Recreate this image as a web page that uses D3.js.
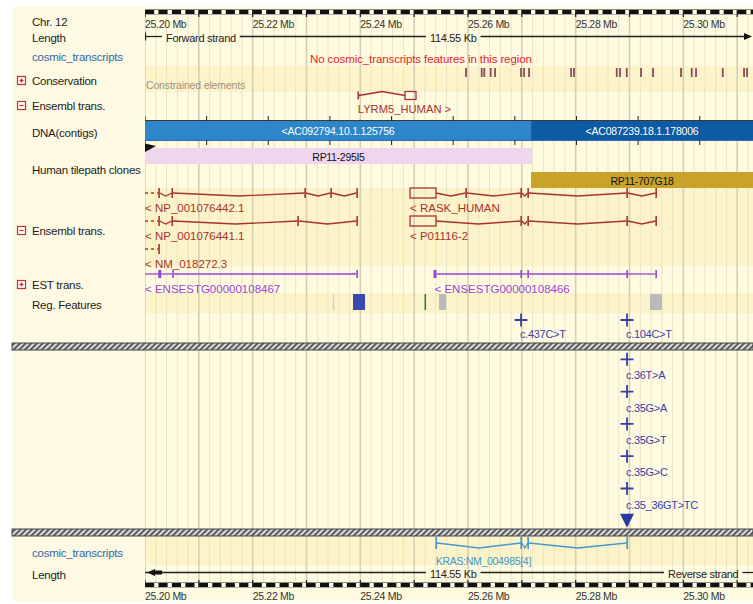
<!DOCTYPE html>
<html>
<head>
<meta charset="utf-8">
<script src="https://cdn.jsdelivr.net/npm/d3@7"></script>
<style>
  html, body { margin: 0; padding: 0; background: #ffffff; }
  svg { display: block; font-family: "Liberation Sans", Arial, sans-serif; }
</style>
</head>
<body>
<svg id="view" width="753" height="604"></svg>
<script>
// ---- Region on chromosome 12 (Mb) ----
const viewStart = 25.2;
const viewEnd = 25.3145;
const regionLength = "114.55 Kb";
const rulerTicks = [25.20, 25.22, 25.24, 25.26, 25.28, 25.30];
const rulerTickLabels = ["25.20 Mb", "25.22 Mb", "25.24 Mb", "25.26 Mb", "25.28 Mb", "25.30 Mb"];

// ---- Track names in the left column ----
const upperTrackNames = ["Chr. 12", "Length", "cosmic_transcripts", "Conservation", "Ensembl trans.",
  "DNA(contigs)", "Human tilepath clones", "Ensembl trans.", "EST trans.", "Reg. Features"];
const upperTrackToggles = [null, null, null, "+", "-", null, null, "-", "+", null];
const lowerTrackNames = ["cosmic_transcripts", "Length"];

// ---- Conservation: constrained elements (Mb) ----
const constrainedElements = [25.25963, 25.26255, 25.26303, 25.26422, 25.26502, 25.26985, 25.27041,
  25.27134, 25.27914, 25.27969, 25.28763, 25.28824, 25.28949, 25.29214, 25.29437, 25.29957,
  25.30156, 25.30236, 25.30732, 25.31128, 25.31184];
const constrainedLabel = "Constrained elements";
const noCosmicMessage = "No cosmic_transcripts features in this region";

// ---- Forward-strand Ensembl transcript ----
const forwardTranscripts = [
  { name: "LYRM5_HUMAN >", exons: [[25.23952, 25.23966], [25.24830, 25.25034]] }
];

// ---- Contigs and clones ----
const contigNames = ["<AC092794.10.1.125756", "<AC087239.18.1.178006"];
const contigStarts = [25.2, 25.27171];
const contigEnds = [25.27171, 25.3145];
const cloneNames = ["RP11-295I5", "RP11-707G18"];
const cloneStarts = [25.2, 25.27171];
const cloneEnds = [25.27189, 25.3145];

// ---- Reverse-strand Ensembl transcripts ----
const reverseTranscripts = [
  { name: "< NP_001076442.1", open: true,
    exons: [[25.20252, 25.20266], [25.20497, 25.20511], [25.22965, 25.22979], [25.23448, 25.23462], [25.23931, 25.23945]] },
  { name: "< NP_001076441.1", open: true,
    exons: [[25.20252, 25.20266], [25.20497, 25.20511], [25.22835, 25.22849], [25.23931, 25.23945]] },
  { name: "< NM_018272.3", open: true,
    exons: [[25.20252, 25.20266]] },
  { name: "< RASK_HUMAN", open: false,
    exons: [[25.24923, 25.25406], [25.25956, 25.25970], [25.26978, 25.26992], [25.27108, 25.27122], [25.28947, 25.28961], [25.29486, 25.29500]] },
  { name: "< P01116-2", open: false,
    exons: [[25.24923, 25.25406], [25.26978, 25.26992], [25.27108, 25.27122], [25.28947, 25.28961], [25.29486, 25.29500]] }
];

// ---- EST transcripts ----
const estTranscripts = [
  { name: "< ENSESTG00000108467", open: true,
    exons: [[25.20265, 25.20300], [25.20510, 25.20522], [25.23931, 25.23945]] },
  { name: "< ENSESTG00000108466", open: false,
    exons: [[25.25378, 25.25412], [25.26978, 25.26992], [25.27108, 25.27122], [25.28947, 25.28961], [25.29486, 25.29500]] }
];

// ---- Regulatory features ----
const regStarts = [25.23488, 25.23864, 25.25193, 25.25462, 25.29381];
const regEnds = [25.23500, 25.24087, 25.25213, 25.25592, 25.29604];
const regTypes = ["weak", "promoter", "insulator", "other", "other"];

// ---- Variations (COSMIC mutations) ----
const upperVariantPos = [25.26985, 25.28954];
const upperVariantLabels = ["c.437C>T", "c.104C>T"];
const codon12Variants = ["c.36T>A", "c.35G>A", "c.35G>T", "c.35G>C", "c.35_36GT>TC"];
const codon12Pos = 25.28954;

// ---- COSMIC transcript ----
const cosmicTranscripts = [
  { name: "KRAS:NM_004985[4]",
    exons: [[25.25400, 25.25412], [25.26978, 25.26992], [25.27108, 25.27122], [25.28947, 25.28961]] }
];

// ================= drawing =================
const svg = d3.select("#view");
const W = 753, H = 604;
const padLeft = 12, padTop = 7, trackX = 145, padBottom = 601;
const x = d3.scaleLinear().domain([viewStart, viewEnd]).range([trackX, 761.4]);

const col = {
  panel: "#fdf9e3", track: "#fefbe0", stripe: "#fcf4c8",
  gridMinor: "#e9e4c9", gridMajor: "#d5d0b5",
  gene: "#a8322e", est: "#9a45d2", varBlue: "#3a3fa6", cosmic: "#4497cf",
  link: "#2f6ba3", text: "#1e1e1e"
};

const defs = svg.append("defs");
defs.append("clipPath").attr("id", "trackClip")
  .append("rect").attr("x", trackX).attr("y", 0).attr("width", W - trackX).attr("height", H);
const hatch = defs.append("pattern").attr("id", "hatch").attr("patternUnits", "userSpaceOnUse")
  .attr("width", 4).attr("height", 4).attr("patternTransform", "rotate(45)");
hatch.append("rect").attr("width", 4).attr("height", 4).attr("fill", "#d9d9d9");
hatch.append("rect").attr("width", 1.8).attr("height", 4).attr("fill", "#505050");

// Backgrounds
svg.append("rect").attr("x", padLeft).attr("y", padTop).attr("width", W - padLeft).attr("height", padBottom - padTop).attr("fill", col.panel);
svg.append("rect").attr("x", trackX).attr("y", padTop).attr("width", W - trackX).attr("height", padBottom - padTop).attr("fill", col.track);
[[66, 92], [188, 266], [293, 313], [537, 565]].forEach(([a, b]) => {
  svg.append("rect").attr("x", trackX).attr("y", a).attr("width", W - trackX).attr("height", b - a).attr("fill", col.stripe);
});

const track = svg.append("g").attr("clip-path", "url(#trackClip)");

// Grid lines every 2 kb, darker every 10 kb
const gridTicks = d3.range(0, 58).map(i => ({ v: viewStart + i * 0.002, major: i % 5 === 0 }));
track.append("g").selectAll("line").data(gridTicks).join("line")
  .attr("x1", d => x(d.v)).attr("x2", d => x(d.v))
  .attr("y1", 14).attr("y2", 582)
  .attr("stroke", d => d.major ? col.gridMajor : col.gridMinor)
  .attr("stroke-width", d => d.major ? 1.6 : 1);

// Rulers (top and bottom)
function ruler(yBar, tickDir, labelY) {
  const g = track.append("g");
  g.append("line").attr("x1", trackX).attr("x2", W).attr("y1", yBar - 0.5).attr("y2", yBar - 0.5)
    .attr("stroke", "#8a8a8a").attr("stroke-width", 1);
  const segs = d3.range(0, 47).map(i => viewStart + i * 0.0025);
  g.selectAll("rect.seg").data(segs).join("rect").attr("class", "seg")
    .attr("x", d => x(d)).attr("width", x(viewStart + 0.0017) - x(viewStart))
    .attr("y", yBar).attr("height", 4).attr("fill", "#111");
  g.append("line").attr("x1", trackX).attr("x2", W).attr("y1", yBar + 4.5).attr("y2", yBar + 4.5)
    .attr("stroke", "#9a9a9a").attr("stroke-width", 0.8);
  const majors = d3.range(0, 12).map(i => viewStart + i * 0.01);
  g.selectAll("line.tk").data(majors).join("line").attr("class", "tk")
    .attr("x1", d => x(d)).attr("x2", d => x(d))
    .attr("y1", tickDir > 0 ? yBar : yBar + 4).attr("y2", tickDir > 0 ? yBar + 7 : yBar - 3)
    .attr("stroke", "#222").attr("stroke-width", 1.2);
  g.selectAll("text").data(rulerTicks).join("text")
    .attr("x", d => x(d)).attr("y", labelY)
    .attr("font-size", 10.5).attr("fill", "#333").attr("letter-spacing", -0.3)
    .text((d, i) => rulerTickLabels[i]);
}
ruler(10, 1, 28);
ruler(583, -1, 600);

// Strand length rows
function strandRow(y, pieces, arrowRight) {
  const g = track.append("g");
  const gaps = [];
  pieces.forEach(p => {
    const t = g.append("text").attr("y", y + 5).attr("font-size", 11).attr("fill", "#222")
      .attr("letter-spacing", -0.3).text(p.text);
    const w = t.node().getComputedTextLength();
    const sx = p.anchor === "middle" ? p.x - w / 2 : p.x;
    t.attr("x", sx);
    gaps.push([sx - 4, sx + w + 4]);
  });
  gaps.sort((a, b) => a[0] - b[0]);
  let cur = trackX;
  const ends = [];
  gaps.forEach(([a, b]) => { ends.push([cur, a]); cur = b; });
  ends.push([cur, arrowRight ? 746 : W]);
  g.selectAll("line.seg").data(ends).join("line").attr("class", "seg")
    .attr("x1", d => d[0]).attr("x2", d => d[1]).attr("y1", y).attr("y2", y)
    .attr("stroke", "#222").attr("stroke-width", 1.3);
  if (arrowRight) {
    g.append("line").attr("x1", trackX + 0.5).attr("x2", trackX + 0.5).attr("y1", y - 4).attr("y2", y + 4)
      .attr("stroke", "#222").attr("stroke-width", 1.3);
    g.append("path").attr("d", `M744,${y - 3.5}L752,${y}L744,${y + 3.5}Z`).attr("fill", "#111");
  } else {
    g.append("path").attr("d", `M147,${y}L155,${y - 3.5}L155,${y + 3.5}Z`).attr("fill", "#111");
    g.append("rect").attr("x", 155).attr("y", y - 2).attr("width", 7).attr("height", 4).attr("fill", "#111");
  }
}
const mid = (x.range()[0] + x.range()[1]) / 2;
strandRow(36.5, [{ text: "Forward strand", x: 166 }, { text: regionLength, x: mid, anchor: "middle" }], true);
strandRow(572.5, [{ text: regionLength, x: mid, anchor: "middle" }, { text: "Reverse strand", x: 668 }], false);

// cosmic_transcripts (empty in the upper panel)
track.append("text").attr("x", 310).attr("y", 63).attr("font-size", 11.5).attr("fill", "#e3262b")
  .attr("letter-spacing", -0.1).text(noCosmicMessage);

// Conservation
track.append("text").attr("x", 146).attr("y", 89).attr("font-size", 10.5).attr("fill", "#a09080")
  .attr("letter-spacing", -0.15).text(constrainedLabel);
track.append("g").selectAll("rect").data(constrainedElements).join("rect")
  .attr("x", d => x(d) - 0.9).attr("width", 1.8).attr("y", 68).attr("height", 9)
  .attr("fill", "#8a4d5c");

// Transcript: exons as boxes/ticks, introns as kinked lines
function transcript(g, t, y, color, o) {
  const ex = t.exons.map(([s, e]) => [x(s), Math.max(x(e), x(s) + 1.2)]);
  const h = o.exonH;
  if (t.open) {
    g.append("line").attr("x1", x(viewStart)).attr("x2", ex[0][0]).attr("y1", y).attr("y2", y)
      .attr("stroke", color).attr("stroke-width", 1.3)
      .attr("stroke-dasharray", o.dashOpen ? "3,3" : null);
  }
  for (let i = 0; i < ex.length - 1; i++) {
    const a = ex[i][1], b = ex[i + 1][0];
    const m = (a + b) / 2;
    const pts = o.kink ? [[a, y], [m, y + o.kink], [b, y]] : [[a, y], [b, y]];
    g.append("path").attr("d", d3.line()(pts)).attr("fill", "none")
      .attr("stroke", color).attr("stroke-width", 1.3);
  }
  ex.forEach(([a, b], i) => {
    const wide = b - a > 4;
    const thick = o.thickFirst && i === 0;
    g.append("rect").attr("x", wide ? a : a - (thick ? 1 : 0.3)).attr("y", y - h / 2)
      .attr("width", wide ? b - a : (thick ? 3 : 1.6)).attr("height", h)
      .attr("fill", wide ? "none" : color)
      .attr("stroke", wide ? color : "none").attr("stroke-width", 1.3);
  });
  g.append("text").attr("x", t.open ? x(viewStart) : ex[0][0]).attr("y", y + o.labelDy)
    .attr("font-size", o.fontSize || 11).attr("fill", color).attr("letter-spacing", o.ls || 0)
    .text(t.name);
}

// Pack features into lanes using their pixel extent (with label)
function pack(items, fontSize) {
  const lanes = [];
  const probe = svg.append("text").attr("font-size", fontSize);
  items.forEach(t => {
    const s = t.open ? x(viewStart) : x(t.exons[0][0]);
    probe.text(t.name);
    const e = Math.max(x(t.exons[t.exons.length - 1][1]), s + probe.node().getComputedTextLength()) + 6;
    let lane = lanes.findIndex(endPx => endPx < s);
    if (lane < 0) { lane = lanes.length; lanes.push(e); } else lanes[lane] = e;
    t.lane = lane;
  });
  probe.remove();
}

// Forward-strand Ensembl transcript
const fwd = track.append("g");
forwardTranscripts.forEach(t => {
  transcript(fwd, t, 95.5, col.gene, { exonH: 8, kink: -4, labelDy: 17.5, fontSize: 11.2 });
});

// Contig ticks (tenths of the region)
const contigTicks = d3.range(0, 11).map(i => viewStart + i * (viewEnd - viewStart) / 10);
const cg = track.append("g");
cg.append("line").attr("x1", trackX).attr("x2", W).attr("y1", 120.5).attr("y2", 120.5).attr("stroke", "#3a3a3a");
cg.selectAll("line.up").data(contigTicks).join("line").attr("class", "up")
  .attr("x1", d => x(d)).attr("x2", d => x(d)).attr("y1", 116).attr("y2", 120.5).attr("stroke", "#222");
const contigColors = ["#2e86c9", "#0d5ba2"];
cg.selectAll("rect.ctg").data(contigNames).join("rect").attr("class", "ctg")
  .attr("x", (d, i) => x(contigStarts[i])).attr("width", (d, i) => x(contigEnds[i]) - x(contigStarts[i]))
  .attr("y", 121).attr("height", 19).attr("fill", (d, i) => contigColors[i]);
cg.selectAll("text.ctg").data(contigNames).join("text").attr("class", "ctg")
  .attr("x", (d, i) => (x(contigStarts[i]) + Math.min(x(contigEnds[i]), W)) / 2).attr("y", 134.5)
  .attr("text-anchor", "middle").attr("font-size", 10.5).attr("fill", "#ffffff").attr("letter-spacing", -0.2)
  .text(d => d);
cg.append("line").attr("x1", trackX).attr("x2", W).attr("y1", 140.5).attr("y2", 140.5).attr("stroke", "#2b6fa8");
cg.selectAll("line.dn").data(contigTicks).join("line").attr("class", "dn")
  .attr("x1", d => x(d)).attr("x2", d => x(d)).attr("y1", 140.5).attr("y2", 145).attr("stroke", "#222");

// Tilepath clones
const cloneColors = ["#f0d5ee", "#c9a229"];
const cloneY = [148, 172];
const clg = track.append("g");
clg.selectAll("rect").data(cloneNames).join("rect")
  .attr("x", (d, i) => x(cloneStarts[i])).attr("width", (d, i) => x(cloneEnds[i]) - x(cloneStarts[i]))
  .attr("y", (d, i) => cloneY[i]).attr("height", 16).attr("fill", (d, i) => cloneColors[i]);
clg.selectAll("text").data(cloneNames).join("text")
  .attr("x", (d, i) => (x(cloneStarts[i]) + Math.min(x(cloneEnds[i]), W)) / 2)
  .attr("y", (d, i) => cloneY[i] + 12.5).attr("text-anchor", "middle")
  .attr("font-size", 10.5).attr("fill", "#111").attr("letter-spacing", -0.3).text(d => d);
clg.append("path").attr("d", "M145,143.5L156,146L145,152Z").attr("fill", "#111");

// Reverse-strand Ensembl transcripts
pack(reverseTranscripts, 11.5);
const rev = track.append("g");
reverseTranscripts.forEach(t => {
  transcript(rev, t, 193 + t.lane * 28, col.gene,
    { exonH: 10, kink: 3, labelDy: 19, fontSize: 11.5, dashOpen: true });
});

// EST transcripts
pack(estTranscripts, 11.5);
const est = track.append("g");
estTranscripts.forEach(t => {
  transcript(est, t, 274 + t.lane * 28, col.est,
    { exonH: 8, kink: 0, labelDy: 19, fontSize: 11.5, thickFirst: true });
});

// Regulatory features
const regColors = { weak: "#cfcfc8", promoter: "#3a48b2", insulator: "#2e7d32", other: "#bababa" };
track.append("g").selectAll("rect").data(regTypes).join("rect")
  .attr("x", (d, i) => x(regStarts[i])).attr("width", (d, i) => Math.max(1.5, x(regEnds[i]) - x(regStarts[i])))
  .attr("y", 294).attr("height", 16).attr("fill", d => regColors[d]);

// Variation markers
function cross(g, cx, cy) {
  g.append("path").attr("d", `M${cx - 6.5},${cy}H${cx + 6.5}M${cx},${cy - 6.5}V${cy + 6.5}`)
    .attr("stroke", col.varBlue).attr("stroke-width", 1.8).attr("fill", "none");
}
const vg = track.append("g");
upperVariantPos.forEach((p, i) => {
  cross(vg, x(p), 320);
  vg.append("text").attr("x", x(p) - 1).attr("y", 338).attr("font-size", 11)
    .attr("fill", col.varBlue).attr("letter-spacing", -0.3).text(upperVariantLabels[i]);
});
const laneStep = 32.3;
codon12Variants.forEach((label, i) => {
  const cy = 359.3 + i * laneStep;
  cross(vg, x(codon12Pos), cy);
  vg.append("text").attr("x", x(codon12Pos) - 1).attr("y", cy + 20).attr("font-size", 11)
    .attr("fill", col.varBlue).attr("letter-spacing", -0.3).text(label);
});
{
  const cy = 359.3 + codon12Variants.length * laneStep;
  const cx = x(codon12Pos);
  vg.append("path").attr("d", `M${cx - 7},${cy - 7}L${cx + 7},${cy - 7}L${cx},${cy + 7}Z`).attr("fill", "#2b3c9e");
}

// COSMIC transcript (lower panel)
const cos = track.append("g");
cosmicTranscripts.forEach(t => {
  transcript(cos, t, 543, col.cosmic, { exonH: 12, kink: 5, labelDy: 22, fontSize: 10.5, ls: -0.3 });
});

// Hatched panel separators
[343, 529].forEach(y => {
  svg.append("rect").attr("x", padLeft).attr("y", y).attr("width", W - padLeft).attr("height", 7)
    .attr("fill", "url(#hatch)").attr("stroke", "#444").attr("stroke-width", 1);
});

// Left column labels
const labelY = [26, 42, 61, 85, 110, 137, 174, 235, 289, 309];
const lab = svg.append("g").attr("font-size", 11.5).attr("letter-spacing", -0.25);
upperTrackNames.forEach((name, i) => {
  lab.append("text").attr("x", 32).attr("y", labelY[i])
    .attr("fill", name === "cosmic_transcripts" ? col.link : col.text).text(name);
  const tg = upperTrackToggles[i];
  if (tg) {
    const by = labelY[i] - 8.5;
    lab.append("rect").attr("x", 17.5).attr("y", by).attr("width", 8).attr("height", 8)
      .attr("fill", "#fff").attr("stroke", "#d42a2a").attr("stroke-width", 1.2);
    let d = `M19.5,${by + 4}H23.5`;
    if (tg === "+") d += `M21.5,${by + 2}V${by + 6}`;
    lab.append("path").attr("d", d).attr("stroke", "#d42a2a").attr("stroke-width", 1.3);
  }
});
const lowerLabelY = [557, 579];
lowerTrackNames.forEach((name, i) => {
  lab.append("text").attr("x", 32).attr("y", lowerLabelY[i])
    .attr("fill", name === "cosmic_transcripts" ? col.link : col.text).text(name);
});
</script>
</body>
</html>
